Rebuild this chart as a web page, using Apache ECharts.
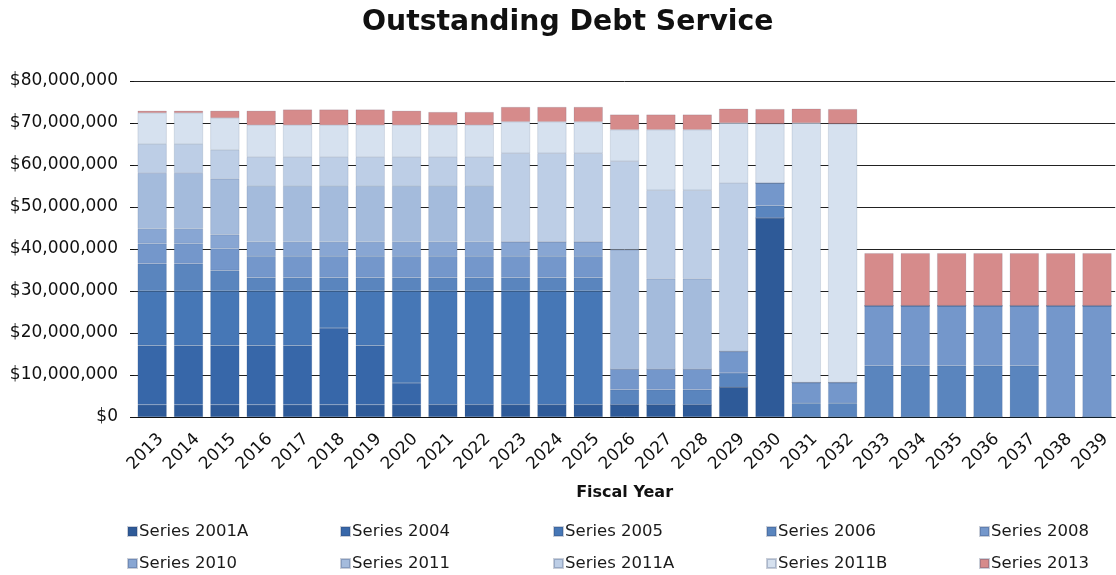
<!DOCTYPE html>
<html>
<head>
<meta charset="utf-8">
<script src="https://cdn.jsdelivr.net/npm/echarts@6/dist/echarts.min.js"></script>
<style>
html,body{margin:0;padding:0;background:#fff;}
#chart{width:1116px;height:575px;}
</style>
</head>
<body>
<div id="chart"></div>
<script>
// Fiscal years (categories)
var years = ['2013','2014','2015','2016','2017','2018','2019','2020','2021','2022','2023','2024','2025','2026','2027','2028','2029','2030','2031','2032','2033','2034','2035','2036','2037','2038','2039'];

// Y-axis ticks (millions of dollars)
var yTicks = [0,10,20,30,40,50,60,70,80];

// Series values, millions of dollars
var s2001A = [2.9,2.9,2.9,2.9,2.9,2.9,2.9,2.9,2.9,2.9,2.9,2.9,2.9,2.9,2.9,2.9,7.1,47.4,0,0,0,0,0,0,0,0,0];
var s2004  = [14.1,14.1,14.1,14.1,14.1,18.3,14.1,5.2,0,0,0,0,0,0,0,0,0,0,0,0,0,0,0,0,0,0,0];
var s2005  = [13.0,13.0,13.0,13.0,13.0,8.8,13.0,21.9,27.1,27.1,27.1,27.1,27.1,0,0,0,0,0,0,0,0,0,0,0,0,0,0];
var s2006  = [6.5,6.5,4.9,3.2,3.2,3.2,3.2,3.2,3.2,3.2,3.2,3.2,3.2,3.6,3.6,3.6,3.4,2.9,3.3,3.3,12.2,12.2,12.2,12.2,12.2,0,0];
var s2008  = [4.8,4.8,5.2,5.1,5.1,5.1,5.1,5.1,5.1,5.1,5.1,5.1,5.1,4.9,4.9,4.9,5.1,5.4,4.9,4.9,14.3,14.3,14.3,14.3,14.3,26.5,26.5];
var s2010  = [3.5,3.5,3.3,3.4,3.4,3.4,3.4,3.4,3.4,3.4,3.4,3.4,3.4,0,0,0,0,0,0,0,0,0,0,0,0,0,0];
var s2011  = [13.3,13.3,13.3,13.3,13.3,13.3,13.3,13.3,13.3,13.3,0,0,0,28.4,21.5,21.5,0,0,0,0,0,0,0,0,0,0,0];
var s2011A = [6.9,6.9,6.9,6.9,6.9,6.9,6.9,6.9,6.9,6.9,21.1,21.1,21.1,21.1,21.1,21.1,40.1,0,0,0,0,0,0,0,0,0,0];
var s2011B = [7.4,7.4,7.6,7.6,7.6,7.6,7.6,7.6,7.6,7.6,7.5,7.5,7.5,7.5,14.4,14.4,14.3,14.1,61.8,61.6,0,0,0,0,0,0,0];
var s2013  = [0.5,0.5,1.7,3.4,3.7,3.7,3.7,3.4,3.1,3.1,3.5,3.5,3.5,3.6,3.6,3.6,3.4,3.5,3.4,3.5,12.5,12.5,12.5,12.5,12.5,12.5,12.5];

var seriesNames = ['Series 2001A','Series 2004','Series 2005','Series 2006','Series 2008','Series 2010','Series 2011','Series 2011A','Series 2011B','Series 2013'];
var seriesData = [s2001A,s2004,s2005,s2006,s2008,s2010,s2011,s2011A,s2011B,s2013];
var colors = ['#2e5a98','#3767a9','#4677b6','#5a85be','#7497cb','#88a6d3','#a4bbdc','#bdcee6','#d6e1ef','#d68b8b'];

function money(v){
  var n = Math.round(v*1000000);
  return '$' + n.toString().replace(/\B(?=(\d{3})+(?!\d))/g, ',');
}

var chart = echarts.init(document.getElementById('chart'), null, {renderer:'canvas'});

var series = seriesNames.map(function(name,i){
  return {
    name: name,
    type: 'bar',
    stack: 'debt',
    barWidth: 29,
    data: seriesData[i],
    itemStyle: {color: colors[i], borderColor: 'rgba(40,60,100,0.25)', borderWidth: 0.5},
    emphasis: {disabled: true}
  };
});

var legends = [];
var colX = [127,340,553,766,979];
var rowY = [523,555];
seriesNames.forEach(function(name,i){
  legends.push({
    data: [name],
    left: colX[i%5],
    top: rowY[Math.floor(i/5)],
    icon: 'rect',
    itemWidth: 9,
    itemHeight: 9,
    itemGap: 0,
    padding: 0,
    selectedMode: false,
    textStyle: {fontFamily: 'DejaVu Sans', fontSize: 16.5, color: '#1a1a1a', padding:[0,0,0,-3]}
  });
});

chart.setOption({
  animation: false,
  backgroundColor: '#ffffff',
  title: {
    text: 'Outstanding Debt Service',
    left: 357,
    top: 4,
    textStyle: {fontFamily: 'DejaVu Sans', fontWeight: 'bold', fontSize: 28.3, color: '#111'}
  },
  legend: legends,
  grid: {left: 134, top: 81, width: 987, height: 336, containLabel: false},
  xAxis: {
    type: 'category',
    data: years,
    name: 'Fiscal Year',
    nameLocation: 'middle',
    nameGap: 68,
    nameTextStyle: {fontFamily: 'DejaVu Sans', fontWeight: 'bold', fontSize: 16, color: '#111'},
    axisLine: {lineStyle: {color: '#111', width: 1}},
    axisTick: {show: false},
    axisLabel: {rotate: 45, interval: 0, margin: 11, verticalAlign: 'top', lineHeight: 24, fontFamily: 'DejaVu Sans', fontSize: 17, color: '#111'}
  },
  yAxis: {
    type: 'value',
    min: yTicks[0],
    max: yTicks[yTicks.length-1],
    interval: yTicks[1]-yTicks[0],
    axisLine: {show: false},
    axisTick: {show: true, length: 4, lineStyle: {color:'#111'}},
    splitLine: {lineStyle: {color: '#222', width: 1}},
    axisLabel: {formatter: money, margin: 16, fontFamily: 'DejaVu Sans', fontSize: 17, color: '#111'}
  },
  series: series
});
</script>
</body>
</html>
